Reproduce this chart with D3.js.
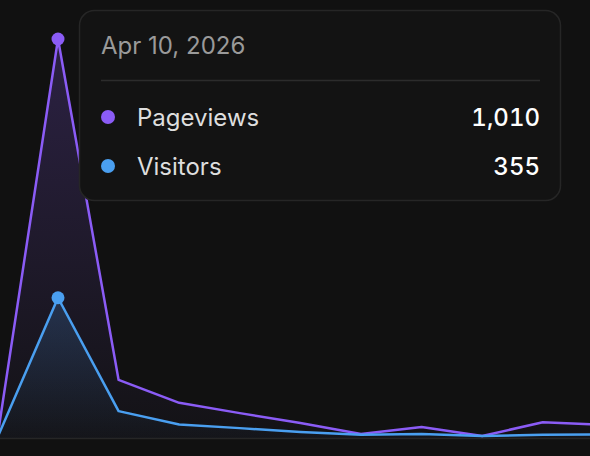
<!DOCTYPE html>
<html>
<head>
<meta charset="utf-8">
<script src="https://cdn.jsdelivr.net/npm/d3@7"></script>
<style>
  html, body { margin: 0; padding: 0; background: #111111; }
  svg { display: block; font-family: Inter, "Noto Sans", sans-serif; }
  .num { font-feature-settings: "tnum" 1; font-variant-numeric: tabular-nums; }
</style>
</head>
<body>
<svg id="chart" width="590" height="456"></svg>
<script>
const dates = ['2026-04-09', '2026-04-10', '2026-04-11', '2026-04-12', '2026-04-13', '2026-04-14',
  '2026-04-15', '2026-04-16', '2026-04-17', '2026-04-18', '2026-04-19'];
const pageviews = [2, 1010, 147, 89, 63, 38, 10, 28, 5, 40, 33];
const visitors = [1, 355, 68, 34, 25, 15, 8, 10, 5, 8, 9];
const activeIndex = 1;

const series = [
  { name: 'Pageviews', values: pageviews, color: '#8b5cf6', top: 0.22, bottom: 0.02 },
  { name: 'Visitors', values: visitors, color: '#4a9ff0', top: 0.2, bottom: 0.02 }
];

const W = 590, H = 456;
const svg = d3.select('#chart');

const x = d3.scalePoint().domain(dates).range([-2.6, 603.4]);
const y = d3.scaleLinear().domain([0, d3.max(pageviews)]).range([438, 39]);

const defs = svg.append('defs');
series.forEach((s, i) => {
  const g = defs.append('linearGradient')
    .attr('id', `fill${i}`)
    .attr('x1', 0).attr('y1', 0).attr('x2', 0).attr('y2', 1);
  g.append('stop').attr('offset', '0%').attr('stop-color', s.color).attr('stop-opacity', s.top);
  g.append('stop').attr('offset', '100%').attr('stop-color', s.color).attr('stop-opacity', s.bottom);
});

// baseline
svg.append('line')
  .attr('x1', 0).attr('x2', W)
  .attr('y1', y(0) + 0.5).attr('y2', y(0) + 0.5)
  .attr('stroke', '#262626').attr('stroke-width', 1.5);

const area = vals => d3.area()
  .x((d, i) => x(dates[i]))
  .y0(y(0))
  .y1(d => y(d))(vals);
const line = vals => d3.line()
  .x((d, i) => x(dates[i]))
  .y(d => y(d))(vals);

series.forEach((s, i) => {
  svg.append('path').attr('d', area(s.values)).attr('fill', `url(#fill${i})`);
});
series.forEach(s => {
  svg.append('path').attr('d', line(s.values))
    .attr('fill', 'none')
    .attr('stroke', s.color)
    .attr('stroke-width', 2.5)
    .attr('stroke-linejoin', 'round');
});
series.forEach(s => {
  svg.append('circle')
    .attr('cx', x(dates[activeIndex]))
    .attr('cy', y(s.values[activeIndex]))
    .attr('r', 6.5)
    .attr('fill', s.color);
});

// tooltip
const fmtDate = d3.timeFormat('%b %-d, %Y');
const fmtNum = d3.format(',');
const tip = svg.append('g').attr('transform', 'translate(79,10)');
tip.append('rect')
  .attr('x', 0.5).attr('y', 0.5)
  .attr('width', 481).attr('height', 190)
  .attr('rx', 15)
  .attr('fill', '#131313')
  .attr('stroke', '#262626')
  .attr('stroke-width', 1.5);
tip.append('text')
  .attr('x', 22).attr('y', 44)
  .attr('font-size', 24)
  .attr('fill', '#9a9a9a')
  .text(fmtDate(d3.timeParse('%Y-%m-%d')(dates[activeIndex])));
tip.append('line')
  .attr('x1', 22).attr('x2', 461)
  .attr('y1', 70.5).attr('y2', 70.5)
  .attr('stroke', '#2c2c2c').attr('stroke-width', 1.5);

series.forEach((s, i) => {
  const row = tip.append('g').attr('transform', `translate(0, ${107 + i * 49})`);
  row.append('circle').attr('cx', 29).attr('cy', 0).attr('r', 7).attr('fill', s.color);
  row.append('text')
    .attr('x', 58).attr('y', 8.5)
    .attr('font-size', 24)
    .attr('fill', '#dedede')
    .text(s.name);
  row.append('text')
    .attr('class', 'num')
    .attr('x', 461).attr('y', 8.5)
    .attr('text-anchor', 'end')
    .attr('font-size', 24)
    .attr('font-weight', 500)
    .attr('fill', '#ffffff')
    .text(fmtNum(s.values[activeIndex]));
});
</script>
</body>
</html>
